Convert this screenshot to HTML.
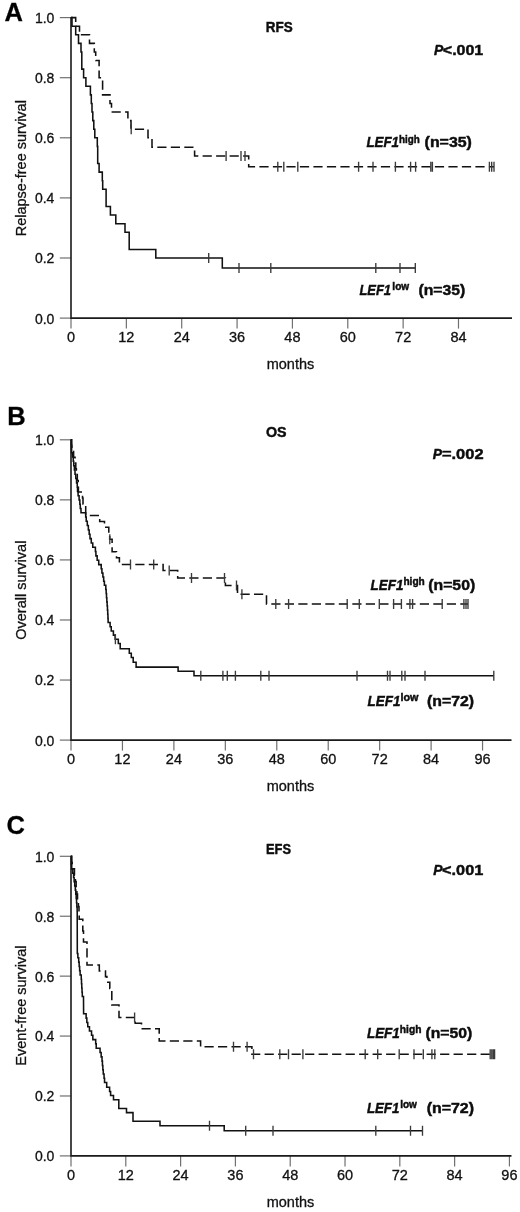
<!DOCTYPE html>
<html><head><meta charset="utf-8"><title>LEF1 survival</title><style>
html,body{margin:0;padding:0;background:#fff;}
svg{display:block;filter:grayscale(1);}
text{font-family:"Liberation Sans",sans-serif;fill:#111;stroke:#111;stroke-width:0.3px;}
.tl{font-size:14px;}
.xl{font-size:14.5px;}
.ax{font-size:14.5px;}
.let{font-size:25.5px;font-weight:bold;fill:#000;}
.b{fill:#0d0d0d;stroke:#0d0d0d;stroke-width:0.45px;}
</style></head>
<body>
<svg width="520" height="1212" viewBox="0 0 520 1212">
<rect width="520" height="1212" fill="#fff"/>
<g><line x1="59.8" y1="318.10" x2="71.00" y2="318.10" stroke="#707070" stroke-width="1.2"/><text x="54.4" y="323.50" text-anchor="end" class="tl">0.0</text><line x1="59.8" y1="258.00" x2="71.00" y2="258.00" stroke="#707070" stroke-width="1.2"/><text x="54.4" y="263.40" text-anchor="end" class="tl">0.2</text><line x1="59.8" y1="197.90" x2="71.00" y2="197.90" stroke="#707070" stroke-width="1.2"/><text x="54.4" y="203.30" text-anchor="end" class="tl">0.4</text><line x1="59.8" y1="137.80" x2="71.00" y2="137.80" stroke="#707070" stroke-width="1.2"/><text x="54.4" y="143.20" text-anchor="end" class="tl">0.6</text><line x1="59.8" y1="77.70" x2="71.00" y2="77.70" stroke="#707070" stroke-width="1.2"/><text x="54.4" y="83.10" text-anchor="end" class="tl">0.8</text><line x1="59.8" y1="17.60" x2="71.00" y2="17.60" stroke="#707070" stroke-width="1.2"/><text x="54.4" y="23.00" text-anchor="end" class="tl">1.0</text><line x1="71.00" y1="318.10" x2="71.00" y2="328.60" stroke="#707070" stroke-width="1.2"/><text x="71.00" y="341.70" text-anchor="middle" class="xl">0</text><line x1="126.36" y1="318.10" x2="126.36" y2="328.60" stroke="#707070" stroke-width="1.2"/><text x="126.36" y="341.70" text-anchor="middle" class="xl">12</text><line x1="181.71" y1="318.10" x2="181.71" y2="328.60" stroke="#707070" stroke-width="1.2"/><text x="181.71" y="341.70" text-anchor="middle" class="xl">24</text><line x1="237.07" y1="318.10" x2="237.07" y2="328.60" stroke="#707070" stroke-width="1.2"/><text x="237.07" y="341.70" text-anchor="middle" class="xl">36</text><line x1="292.42" y1="318.10" x2="292.42" y2="328.60" stroke="#707070" stroke-width="1.2"/><text x="292.42" y="341.70" text-anchor="middle" class="xl">48</text><line x1="347.78" y1="318.10" x2="347.78" y2="328.60" stroke="#707070" stroke-width="1.2"/><text x="347.78" y="341.70" text-anchor="middle" class="xl">60</text><line x1="403.14" y1="318.10" x2="403.14" y2="328.60" stroke="#707070" stroke-width="1.2"/><text x="403.14" y="341.70" text-anchor="middle" class="xl">72</text><line x1="458.49" y1="318.10" x2="458.49" y2="328.60" stroke="#707070" stroke-width="1.2"/><text x="458.49" y="341.70" text-anchor="middle" class="xl">84</text><path d="M71.00 17.00V318.10H512.00" fill="none" stroke="#1a1a1a" stroke-width="1.6"/><text x="266.7" y="368.70" class="ax">months</text><text transform="translate(26.2 168.20) rotate(-90)" text-anchor="middle" class="ax">Relapse-free survival</text><text x="4.6" y="20.9" class="let">A</text></g>
<g><line x1="59.8" y1="740.10" x2="71.00" y2="740.10" stroke="#707070" stroke-width="1.2"/><text x="54.4" y="745.50" text-anchor="end" class="tl">0.0</text><line x1="59.8" y1="680.04" x2="71.00" y2="680.04" stroke="#707070" stroke-width="1.2"/><text x="54.4" y="685.44" text-anchor="end" class="tl">0.2</text><line x1="59.8" y1="619.98" x2="71.00" y2="619.98" stroke="#707070" stroke-width="1.2"/><text x="54.4" y="625.38" text-anchor="end" class="tl">0.4</text><line x1="59.8" y1="559.92" x2="71.00" y2="559.92" stroke="#707070" stroke-width="1.2"/><text x="54.4" y="565.32" text-anchor="end" class="tl">0.6</text><line x1="59.8" y1="499.86" x2="71.00" y2="499.86" stroke="#707070" stroke-width="1.2"/><text x="54.4" y="505.26" text-anchor="end" class="tl">0.8</text><line x1="59.8" y1="439.80" x2="71.00" y2="439.80" stroke="#707070" stroke-width="1.2"/><text x="54.4" y="445.20" text-anchor="end" class="tl">1.0</text><line x1="71.00" y1="740.10" x2="71.00" y2="750.60" stroke="#707070" stroke-width="1.2"/><text x="71.00" y="763.70" text-anchor="middle" class="xl">0</text><line x1="122.44" y1="740.10" x2="122.44" y2="750.60" stroke="#707070" stroke-width="1.2"/><text x="122.44" y="763.70" text-anchor="middle" class="xl">12</text><line x1="173.89" y1="740.10" x2="173.89" y2="750.60" stroke="#707070" stroke-width="1.2"/><text x="173.89" y="763.70" text-anchor="middle" class="xl">24</text><line x1="225.33" y1="740.10" x2="225.33" y2="750.60" stroke="#707070" stroke-width="1.2"/><text x="225.33" y="763.70" text-anchor="middle" class="xl">36</text><line x1="276.78" y1="740.10" x2="276.78" y2="750.60" stroke="#707070" stroke-width="1.2"/><text x="276.78" y="763.70" text-anchor="middle" class="xl">48</text><line x1="328.22" y1="740.10" x2="328.22" y2="750.60" stroke="#707070" stroke-width="1.2"/><text x="328.22" y="763.70" text-anchor="middle" class="xl">60</text><line x1="379.66" y1="740.10" x2="379.66" y2="750.60" stroke="#707070" stroke-width="1.2"/><text x="379.66" y="763.70" text-anchor="middle" class="xl">72</text><line x1="431.11" y1="740.10" x2="431.11" y2="750.60" stroke="#707070" stroke-width="1.2"/><text x="431.11" y="763.70" text-anchor="middle" class="xl">84</text><line x1="482.55" y1="740.10" x2="482.55" y2="750.60" stroke="#707070" stroke-width="1.2"/><text x="482.55" y="763.70" text-anchor="middle" class="xl">96</text><path d="M71.00 439.20V740.10H511.50" fill="none" stroke="#1a1a1a" stroke-width="1.6"/><text x="266.7" y="790.70" class="ax">months</text><text transform="translate(26.2 590.20) rotate(-90)" text-anchor="middle" class="ax">Overall survival</text><text x="7.2" y="424.8" class="let">B</text></g>
<g><line x1="59.8" y1="1155.90" x2="71.00" y2="1155.90" stroke="#707070" stroke-width="1.2"/><text x="54.4" y="1161.30" text-anchor="end" class="tl">0.0</text><line x1="59.8" y1="1095.98" x2="71.00" y2="1095.98" stroke="#707070" stroke-width="1.2"/><text x="54.4" y="1101.38" text-anchor="end" class="tl">0.2</text><line x1="59.8" y1="1036.06" x2="71.00" y2="1036.06" stroke="#707070" stroke-width="1.2"/><text x="54.4" y="1041.46" text-anchor="end" class="tl">0.4</text><line x1="59.8" y1="976.14" x2="71.00" y2="976.14" stroke="#707070" stroke-width="1.2"/><text x="54.4" y="981.54" text-anchor="end" class="tl">0.6</text><line x1="59.8" y1="916.22" x2="71.00" y2="916.22" stroke="#707070" stroke-width="1.2"/><text x="54.4" y="921.62" text-anchor="end" class="tl">0.8</text><line x1="59.8" y1="856.30" x2="71.00" y2="856.30" stroke="#707070" stroke-width="1.2"/><text x="54.4" y="861.70" text-anchor="end" class="tl">1.0</text><line x1="71.00" y1="1155.90" x2="71.00" y2="1166.40" stroke="#707070" stroke-width="1.2"/><text x="71.00" y="1179.50" text-anchor="middle" class="xl">0</text><line x1="125.80" y1="1155.90" x2="125.80" y2="1166.40" stroke="#707070" stroke-width="1.2"/><text x="125.80" y="1179.50" text-anchor="middle" class="xl">12</text><line x1="180.61" y1="1155.90" x2="180.61" y2="1166.40" stroke="#707070" stroke-width="1.2"/><text x="180.61" y="1179.50" text-anchor="middle" class="xl">24</text><line x1="235.41" y1="1155.90" x2="235.41" y2="1166.40" stroke="#707070" stroke-width="1.2"/><text x="235.41" y="1179.50" text-anchor="middle" class="xl">36</text><line x1="290.22" y1="1155.90" x2="290.22" y2="1166.40" stroke="#707070" stroke-width="1.2"/><text x="290.22" y="1179.50" text-anchor="middle" class="xl">48</text><line x1="345.02" y1="1155.90" x2="345.02" y2="1166.40" stroke="#707070" stroke-width="1.2"/><text x="345.02" y="1179.50" text-anchor="middle" class="xl">60</text><line x1="399.82" y1="1155.90" x2="399.82" y2="1166.40" stroke="#707070" stroke-width="1.2"/><text x="399.82" y="1179.50" text-anchor="middle" class="xl">72</text><line x1="454.63" y1="1155.90" x2="454.63" y2="1166.40" stroke="#707070" stroke-width="1.2"/><text x="454.63" y="1179.50" text-anchor="middle" class="xl">84</text><line x1="509.43" y1="1155.90" x2="509.43" y2="1166.40" stroke="#707070" stroke-width="1.2"/><text x="509.43" y="1179.50" text-anchor="middle" class="xl">96</text><path d="M71.00 855.70V1155.90H511.50" fill="none" stroke="#1a1a1a" stroke-width="1.6"/><text x="266.7" y="1206.50" class="ax">months</text><text transform="translate(26.2 1005.60) rotate(-90)" text-anchor="middle" class="ax">Event-free survival</text><text x="6.6" y="834.4" class="let">C</text></g>
<g><text transform="translate(366.38 147.40) scale(0.890 1)" font-size="15.0" font-weight="bold" font-style="italic" class="b">LEF1</text><text transform="translate(398.96 142.50) scale(0.987 1)" font-size="10.0" font-weight="bold" class="b">high</text><text transform="translate(424.58 147.40) scale(1.092 1)" font-size="14.6" font-weight="bold" class="b">(n=35)</text><text transform="translate(359.38 294.70) scale(0.862 1)" font-size="15.0" font-weight="bold" font-style="italic" class="b">LEF1</text><text transform="translate(392.35 289.80) scale(1.006 1)" font-size="10.0" font-weight="bold" class="b">low</text><text transform="translate(418.49 294.70) scale(1.078 1)" font-size="14.6" font-weight="bold" class="b">(n=35)</text><text transform="translate(370.58 589.80) scale(0.893 1)" font-size="15.0" font-weight="bold" font-style="italic" class="b">LEF1</text><text transform="translate(403.44 584.90) scale(1.013 1)" font-size="10.0" font-weight="bold" class="b">high</text><text transform="translate(428.29 589.80) scale(1.080 1)" font-size="14.6" font-weight="bold" class="b">(n=50)</text><text transform="translate(367.58 705.50) scale(0.893 1)" font-size="15.0" font-weight="bold" font-style="italic" class="b">LEF1</text><text transform="translate(400.39 700.60) scale(1.081 1)" font-size="10.0" font-weight="bold" class="b">low</text><text transform="translate(426.99 705.50) scale(1.085 1)" font-size="14.6" font-weight="bold" class="b">(n=72)</text><text transform="translate(366.98 1037.90) scale(0.893 1)" font-size="15.0" font-weight="bold" font-style="italic" class="b">LEF1</text><text transform="translate(399.83 1033.00) scale(1.023 1)" font-size="10.0" font-weight="bold" class="b">high</text><text transform="translate(425.39 1037.90) scale(1.078 1)" font-size="14.6" font-weight="bold" class="b">(n=50)</text><text transform="translate(366.88 1113.30) scale(0.885 1)" font-size="15.0" font-weight="bold" font-style="italic" class="b">LEF1</text><text transform="translate(400.15 1108.40) scale(1.000 1)" font-size="10.0" font-weight="bold" class="b">low</text><text transform="translate(426.68 1113.30) scale(1.092 1)" font-size="14.6" font-weight="bold" class="b">(n=72)</text><text transform="translate(265.70 32.30) scale(0.898 1)" font-size="15.0" font-weight="bold" class="b">RFS</text><text transform="translate(265.89 436.60) scale(0.953 1)" font-size="15.0" font-weight="bold" class="b">OS</text><text transform="translate(265.94 853.90) scale(0.858 1)" font-size="15.0" font-weight="bold" class="b">EFS</text><text transform="translate(433.97 55.00) scale(0.923 1)" font-size="15.0" font-weight="bold" font-style="italic" class="b">P</text><text transform="translate(442.80 55.00) scale(1.067 1)" font-size="15.0" font-weight="bold" class="b">&lt;.001</text><text transform="translate(432.87 458.50) scale(0.923 1)" font-size="15.0" font-weight="bold" font-style="italic" class="b">P</text><text transform="translate(441.95 458.50) scale(1.097 1)" font-size="15.0" font-weight="bold" class="b">=.002</text><text transform="translate(433.27 874.90) scale(0.923 1)" font-size="15.0" font-weight="bold" font-style="italic" class="b">P</text><text transform="translate(442.09 874.90) scale(1.086 1)" font-size="15.0" font-weight="bold" class="b">&lt;.001</text></g>
<g><path d="M71.00 17.60H72.00V26.19H75.70V34.77H78.50V43.36H81.00V51.94H81.80V69.11H83.60V77.70H85.90V86.29H90.40V94.87H91.30V103.46H92.00V112.04H92.80V120.63H93.80V129.21H94.80V137.80H97.30V146.39H97.70V163.56H99.10V172.14H102.30V180.73H102.70V189.31H106.10V206.49H110.40V215.07H115.80V223.66H125.00V232.24H129.20V249.41H155.80V258.00H222.30V268.00H415.30" fill="none" stroke="#111" stroke-width="1.55"/><path d="M208.70 253.00V263.00M239.00 263.00V273.00M270.80 263.00V273.00M375.80 263.00V273.00M400.00 263.00V273.00M415.30 263.00V273.00" fill="none" stroke="#3a3a3a" stroke-width="1.35"/><path d="M71.00 17.60H75.70V26.19H79.50V34.77H89.50V43.36H94.30V51.94H95.70V60.53H99.10V77.70H102.60V94.87H110.00V103.46H111.50V112.04H127.90V120.63H131.00V129.21H148.00V137.80H152.00V147.30H194.60V156.00H248.70V166.70H494.00" fill="none" stroke="#111" stroke-width="1.55" stroke-dasharray="9.2 4.3"/><path d="M131.20 124.21V134.21M226.10 151.00V161.00M241.00 151.00V161.00M245.00 151.00V161.00M277.80 161.70V171.70M283.80 161.70V171.70M297.80 161.70V171.70M358.60 161.70V171.70M373.00 161.70V171.70M395.40 161.70V171.70M410.60 161.70V171.70M415.60 161.70V171.70M430.80 161.70V171.70M432.40 161.70V171.70M489.40 161.70V171.70M491.70 161.70V171.70M494.00 161.70V171.70" fill="none" stroke="#3a3a3a" stroke-width="1.35"/><path d="M71.00 439.80H71.34V444.11H71.43V448.42H71.62V452.73H72.55V457.03H73.25V461.34H73.74V465.65H74.37V469.96H75.02V474.27H75.75V478.58H76.56V482.88H77.26V487.19H77.52V491.50H78.10V495.74H79.10V499.98H79.82V504.22H80.27V508.46H81.00V512.70H85.70V516.90H86.23V521.24H87.28V525.59H88.34V529.93H89.18V534.27H90.00V538.61H91.26V542.96H92.75V547.30H95.40V551.50H95.91V555.87H97.16V560.23H98.72V564.60H101.20V568.80H101.91V572.93H102.90V577.06H103.67V581.19H104.39V585.32H105.81V589.45H106.17V593.58H106.51V597.72H106.83V601.85H107.15V605.98H107.45V610.11H107.72V614.24H107.95V618.37H108.12V622.50H110.10V626.70H111.24V630.90H113.40V635.10H115.17V639.30H118.30V643.50H120.20V648.80H129.30V653.20H131.30V657.50H133.20V662.30H136.10V667.10H178.10V671.30H194.00V675.80H493.80" fill="none" stroke="#111" stroke-width="1.55"/><path d="M115.40 634.30V644.30M200.80 670.80V680.80M222.90 670.80V680.80M227.30 670.80V680.80M235.40 670.80V680.80M260.80 670.80V680.80M269.00 670.80V680.80M357.00 670.80V680.80M387.50 670.80V680.80M390.00 670.80V680.80M401.80 670.80V680.80M405.00 670.80V680.80M425.00 670.80V680.80M493.80 670.80V680.80" fill="none" stroke="#3a3a3a" stroke-width="1.35"/><path d="M71.00 439.80H71.71V445.60H71.94V451.40H73.60V457.20H75.04V463.00H75.79V468.80H76.37V474.60H77.30V480.40H78.24V486.20H78.40V492.00H82.50V498.00H83.00V504.00H85.70V515.50H99.70V521.50H104.50V527.30H108.80V533.30H109.70V539.20H112.10V545.50H112.10V551.80H116.50V557.70H119.40V564.50H163.10V570.40H177.70V578.00H225.40V585.40H237.50V594.30H266.50V604.00H468.00" fill="none" stroke="#111" stroke-width="1.55" stroke-dasharray="9.2 4.3"/><path d="M109.80 534.20V544.20M130.50 559.50V569.50M153.70 559.50V569.50M169.20 565.40V575.40M191.50 573.00V583.00M224.50 573.00V583.00M236.50 580.40V590.40M241.90 589.30V599.30M275.80 599.00V609.00M288.60 599.00V609.00M347.20 599.00V609.00M359.30 599.00V609.00M379.30 599.00V609.00M393.60 599.00V609.00M401.40 599.00V609.00M409.90 599.00V609.00M412.60 599.00V609.00M442.20 599.00V609.00M463.90 599.00V609.00M466.00 599.00V609.00M468.00 599.00V609.00" fill="none" stroke="#3a3a3a" stroke-width="1.35"/><path d="M71.00 856.30H71.34V860.53H71.43V864.75H71.72V868.98H72.81V873.20H73.60V877.43H74.14V881.66H74.73V885.88H75.32V890.11H75.80V894.33H76.18V898.56H76.55V902.79H76.84V907.01H77.14V911.24H77.21V915.47H77.22V919.69H77.23V923.92H77.24V928.14H77.25V932.37H77.26V936.60H77.27V940.82H77.28V945.05H77.29V949.27H77.30V953.50H77.87V957.81H78.71V962.11H79.17V966.42H79.64V970.73H80.12V975.04H81.24V979.34H81.50V983.65H81.76V987.96H82.03V992.26H82.29V996.57H83.51V1000.88H83.53V1005.19H83.56V1009.49H83.59V1013.80H86.13V1018.10H86.84V1022.40H87.77V1026.70H89.45V1031.00H91.55V1035.30H92.85V1039.60H95.70V1043.80H96.20V1048.30H100.06V1052.58H101.15V1056.85H102.02V1061.13H102.43V1065.40H102.84V1069.68H103.26V1073.95H104.06V1078.23H104.55V1082.50H106.70V1087.30H109.60V1091.40H110.60V1095.50H113.50V1099.80H118.80V1104.20H118.80V1108.50H126.50V1112.60H133.00V1116.90H133.00V1121.20H160.00V1125.80H224.20V1130.75H422.50" fill="none" stroke="#111" stroke-width="1.55"/><path d="M209.50 1120.80V1130.80M245.70 1125.75V1135.75M273.00 1125.75V1135.75M375.80 1125.75V1135.75M410.50 1125.75V1135.75M422.50 1125.75V1135.75" fill="none" stroke="#3a3a3a" stroke-width="1.35"/><path d="M71.00 856.30H71.79V862.59H72.18V868.88H74.44V875.17H75.41V881.46H76.15V887.75H76.89V894.04H77.52V900.33H78.38V906.62H78.99V912.91H79.21V919.20H82.80V925.20H82.80V931.00H83.50V937.00H83.50V942.00H87.00V947.50H87.00V953.50H87.00V959.20H87.00V965.00H99.30V971.00H105.50V976.60H106.90V982.30H109.80V988.40H111.80V994.00H111.80V999.60H111.80V1005.00H119.00V1011.20H119.00V1017.50H135.20V1023.20H141.50V1028.80H159.20V1035.00H159.20V1041.00H200.60V1046.80H251.90V1054.20H494.40" fill="none" stroke="#111" stroke-width="1.55" stroke-dasharray="9.2 4.3"/><path d="M134.60 1012.50V1022.50M233.50 1041.80V1051.80M247.10 1041.80V1051.80M253.50 1049.20V1059.20M279.80 1049.20V1059.20M288.50 1049.20V1059.20M302.90 1049.20V1059.20M365.20 1049.20V1059.20M377.70 1049.20V1059.20M399.20 1049.20V1059.20M414.00 1049.20V1059.20M423.30 1049.20V1059.20M431.90 1049.20V1059.20M434.80 1049.20V1059.20M490.20 1049.20V1059.20M491.80 1049.20V1059.20M493.30 1049.20V1059.20M494.60 1049.20V1059.20" fill="none" stroke="#3a3a3a" stroke-width="1.35"/></g>
</svg>
</body></html>
